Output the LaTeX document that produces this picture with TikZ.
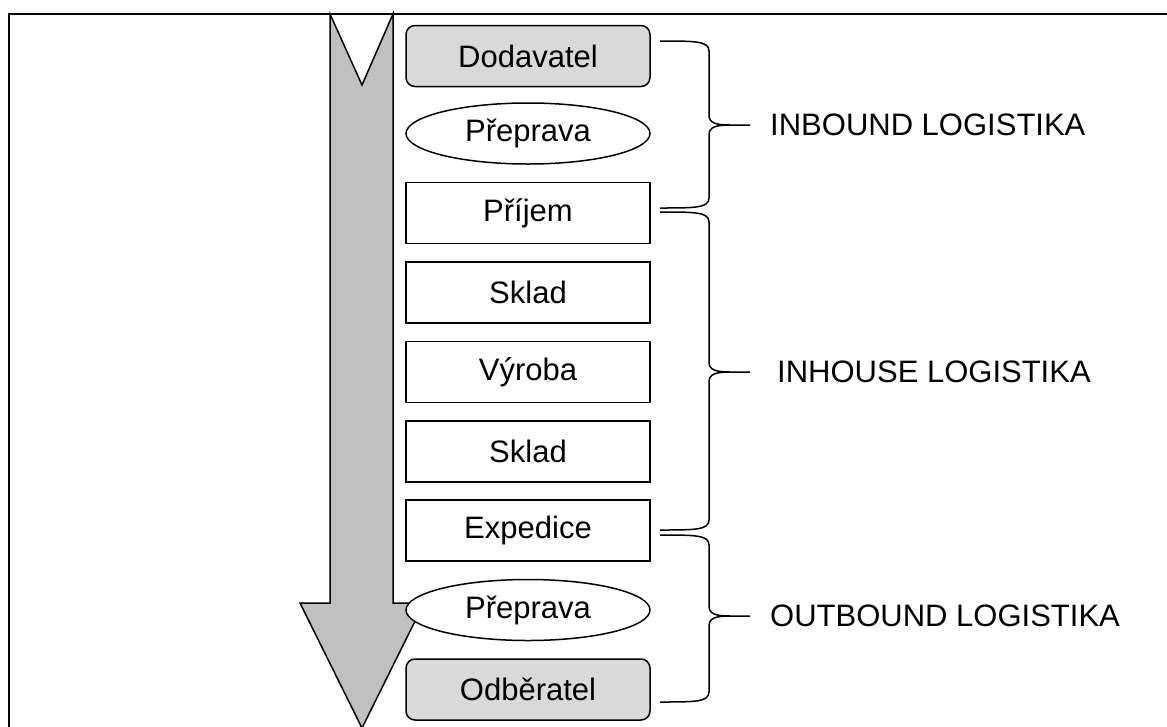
\documentclass[tikz,border=0pt]{standalone}
\usepackage{fontspec}
\setmainfont{Liberation Sans}
\usetikzlibrary{shapes.geometric,calc}
\definecolor{endgray}{HTML}{D9D9D9}
\definecolor{flowgray}{HTML}{C0C0C0}
% curly brace: start y, tip y, end y (x positions fixed)
\newcommand\groupbrace[3]{%
  \draw[brace] (660,#1) .. controls (695,#1) and (709,#1) .. (709,#1+10)
    -- (709,#2-10) .. controls (709,#2-2) and (716,#2) .. (730,#2) -- (750,#2)
    (730,#2) .. controls (716,#2) and (709,#2+2) .. (709,#2+10)
    -- (709,#3-10) .. controls (709,#3) and (695,#3) .. (660,#3);}
\begin{document}
\begin{tikzpicture}[x=1pt,y=-1pt,
  every node/.style={font=\fontsize{31}{36}\selectfont},
  stagebox/.style={draw, line width=1.5pt, minimum width=244pt, minimum height=61pt, inner sep=0pt, fill=white},
  endbox/.style={stagebox, rounded corners=9pt, fill=endgray},
  transport/.style={draw, ellipse, line width=1.5pt, minimum width=244pt, minimum height=61pt, inner sep=0pt, fill=white},
  brace/.style={line width=1.5pt},
  grouplabel/.style={anchor=west, inner sep=0pt}]
\useasboundingbox (0,0) rectangle (1167,726);
\clip (0,0) rectangle (1167,726);
% frame
\draw[line width=2pt] (8.5,13.5) rectangle (1190,760);
% flow arrow
\draw[line width=1.5pt, fill=flowgray, line join=miter]
  (330,14) -- (362,85) -- (393,14) -- (393,603) -- (424,603) -- (362,728)
  -- (300,603) -- (330,603) -- cycle;
% stages
\node[endbox]    (dod)  at (528,56)    {Dodavatel};
\node[transport] (tr1)  at (528,133.5) {Přeprava};
\node[stagebox]  (prij) at (528,213)   {Příjem};
\node[stagebox]  (skl1) at (528,292.5) {Sklad};
\node[stagebox]  (vyr)  at (528,372)   {Výroba};
\node[stagebox]  (skl2) at (528,451.5) {Sklad};
\node[stagebox]  (exp)  at (528,530.5) {Expedice};
\node[transport] (tr2)  at (528,610)   {Přeprava};
\node[endbox]    (odb)  at (528,689.5) {Odběratel};
% groups
\groupbrace{41}{125}{208}
\groupbrace{212}{372}{530}
\groupbrace{535}{616}{702}
\node[grouplabel] (inb)  at (770,125) {INBOUND LOGISTIKA};
\node[grouplabel] (inh)  at (777,372) {INHOUSE LOGISTIKA};
\node[grouplabel] (outb) at (770,616) {OUTBOUND LOGISTIKA};
\end{tikzpicture}
\end{document}
